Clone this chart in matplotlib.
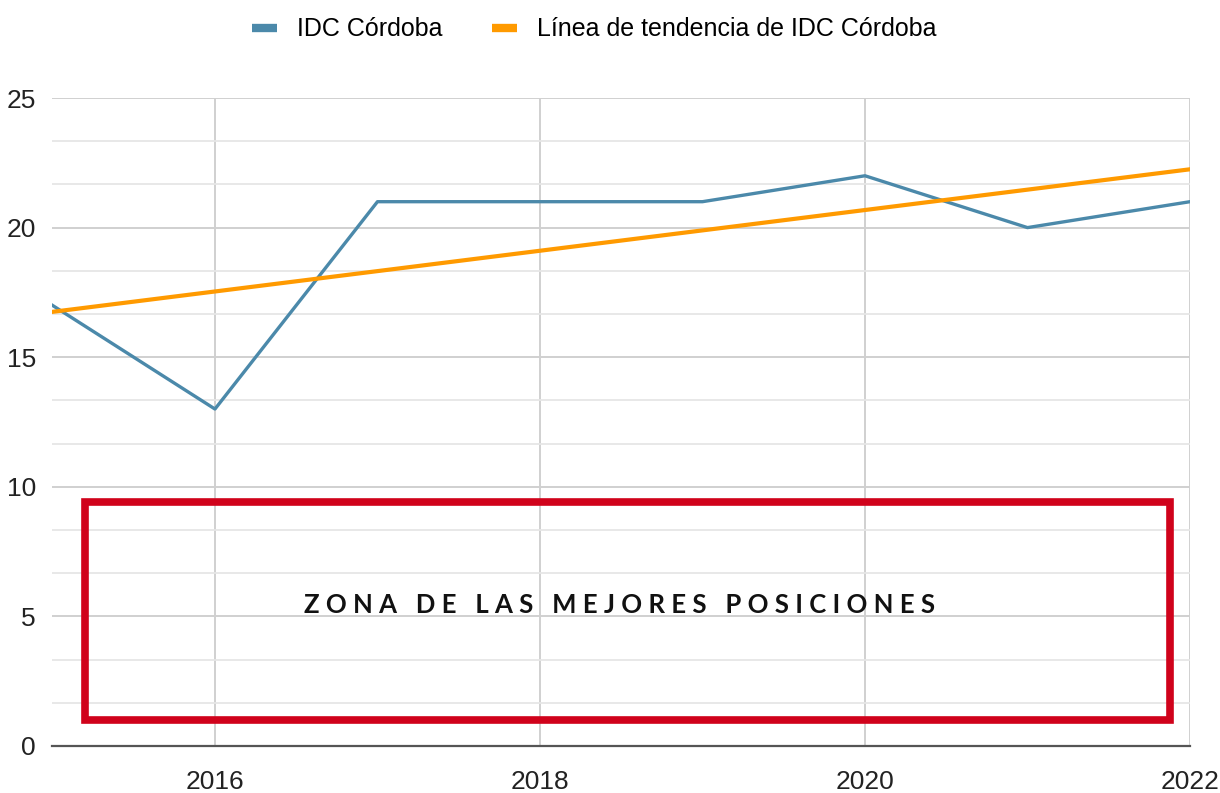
import matplotlib

matplotlib.use("Agg")
import matplotlib.pyplot as plt
import numpy as np
from matplotlib.patches import Rectangle
from matplotlib.ticker import MultipleLocator

years = [2015, 2016, 2017, 2018, 2019, 2020, 2021, 2022]
idc_cordoba = [17, 13, 21, 21, 21, 22, 20, 21]
x_ticks = [2016, 2018, 2020, 2022]
y_ticks = [0, 5, 10, 15, 20, 25]
zone_label = "ZONA DE LAS MEJORES POSICIONES"
zone_bounds = (2015.2, 2021.88, 1.0, 9.42)  # x0, x1, y0, y1

# linear trend of the series, as the spreadsheet trendline does
slope, intercept = np.polyfit(years, idc_cordoba, 1)
trend = [slope * y + intercept for y in years]

plt.rcParams["font.family"] = ["Liberation Sans", "DejaVu Sans"]

fig = plt.figure(figsize=(12.2, 7.93), dpi=100)
ax = fig.add_axes([0.043, 0.0593, 0.9324, 0.8171])

blue = "#4b89aa"
orange = "#ff9a00"
ax.plot(years, idc_cordoba, color=blue, lw=2.4, label="IDC Córdoba", zorder=3)
ax.plot(years, trend, color=orange, lw=3.0, label="Línea de tendencia de IDC Córdoba", zorder=4)

ax.set_xlim(2015, 2022)
ax.set_ylim(0, 25)
ax.set_xticks(x_ticks)
ax.set_yticks(y_ticks)
ax.yaxis.set_minor_locator(MultipleLocator(5 / 3))
ax.grid(True, which="major", color="#d0d0d0", lw=1.4)
ax.grid(True, which="minor", axis="y", color="#e6e6e6", lw=1.3)
ax.set_axisbelow(True)

for side in ("top", "left", "right"):
    ax.spines[side].set_visible(False)
ax.spines["bottom"].set_color("#555555")
ax.spines["bottom"].set_linewidth(1.6)
ax.tick_params(which="both", length=0)
ax.tick_params(axis="y", pad=12, labelsize=19, labelcolor="#222222")
ax.tick_params(axis="x", pad=17, labelsize=19, labelcolor="#222222")

x0, x1, y0, y1 = zone_bounds
ax.add_patch(Rectangle((x0, y0), x1 - x0, y1 - y0, fill=False,
                       edgecolor="#d0021b", lw=5.5, zorder=5, clip_on=False))
spaced = "   ".join(" ".join(word) for word in zone_label.split())
ax.text(2018.49, 5.45, spaced, ha="center", va="center", fontsize=18.5,
        family=["Lato", "DejaVu Sans"], fontweight="bold", color="#111111", zorder=6)

leg = fig.legend(loc="center", bbox_to_anchor=(0.487, 0.963), ncol=2, frameon=False,
                 fontsize=18, handlelength=1.0, handletextpad=0.8, columnspacing=2.0)
for h in leg.get_lines():
    h.set_linewidth(6)
    h.set_solid_capstyle("butt")

fig.savefig("out.png", dpi=100)
